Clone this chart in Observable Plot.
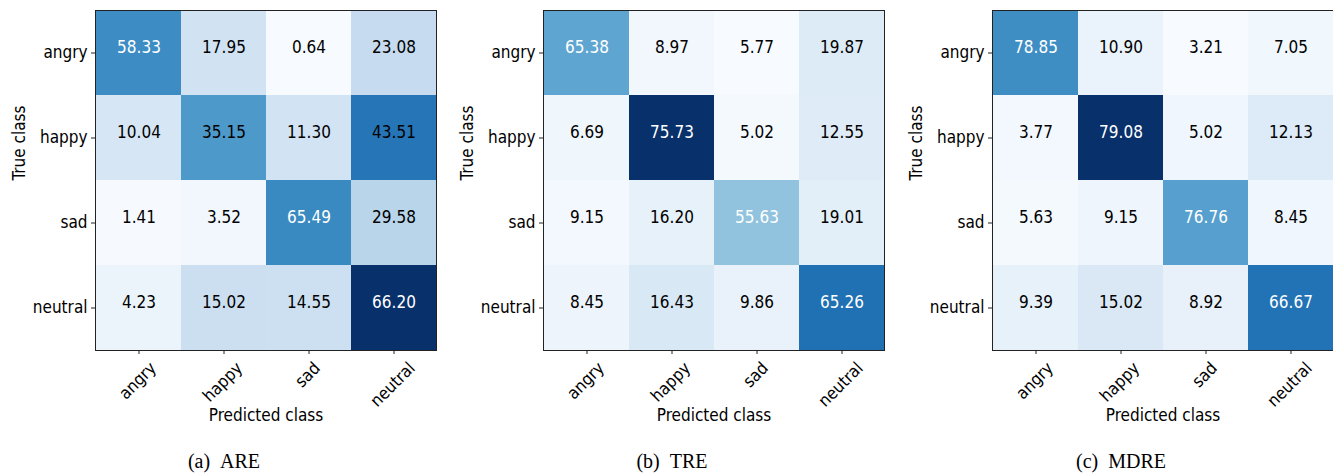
<!DOCTYPE html>
<html>
<head>
<meta charset="utf-8">
<script src="https://cdn.jsdelivr.net/npm/d3@7"></script>
<script src="https://cdn.jsdelivr.net/npm/@observablehq/plot@0.6"></script>
<style>
  html, body { margin: 0; padding: 0; background: #fff; }
  #root { position: relative; width: 1333px; height: 473px; overflow: hidden; background: #fff; }
  .panel { position: absolute; top: 0; width: 446px; height: 473px; }
  .panel svg { position: absolute; left: 0; top: 0; overflow: visible; }
  .caption { position: absolute; left: 0; top: 449px; width: 446px; text-align: center;
             font-family: "Liberation Serif", "Times New Roman", serif; font-size: 20px; line-height: 24px; color: #000; }
</style>
</head>
<body>
<div id="root"></div>
<script>
// ---- data ----
const classes = ["angry", "happy", "sad", "neutral"];
// number of test samples per true class (row support)
const support = [156, 239, 142, 213];
// row-normalised percentages shown in the cells
const areValues = [
  [58.33, 17.95, 0.64, 23.08],
  [10.04, 35.15, 11.30, 43.51],
  [1.41, 3.52, 65.49, 29.58],
  [4.23, 15.02, 14.55, 66.20]
];
const treValues = [
  [65.38, 8.97, 5.77, 19.87],
  [6.69, 75.73, 5.02, 12.55],
  [9.15, 16.20, 55.63, 19.01],
  [8.45, 16.43, 9.86, 65.26]
];
const mdreValues = [
  [78.85, 10.90, 3.21, 7.05],
  [3.77, 79.08, 5.02, 12.13],
  [5.63, 9.15, 76.76, 8.45],
  [9.39, 15.02, 8.92, 66.67]
];
const panelLetters = ["(a)", "(b)", "(c)"];
const panelNames = ["ARE", "TRE", "MDRE"];
const panelValues = [areValues, treValues, mdreValues];
const xLabel = "Predicted class";
const yLabel = "True class";

// ---- style ----
const blues = ["#f7fbff", "#deebf7", "#c6dbef", "#9ecae1", "#6baed6", "#4292c6", "#2171b5", "#08519c", "#08306b"];
const FONT = '"DejaVu Sans Condensed", "DejaVu Sans", sans-serif';
const FS = 17;
const panelLeft = [1, 449, 898];

const root = document.getElementById("root");

panelValues.forEach((values, p) => {
  const rows = [];
  values.forEach((row, i) => row.forEach((pct, j) => {
    rows.push({truth: classes[i], pred: classes[j], pct, count: Math.round(pct * support[i] / 100)});
  }));
  const cmin = d3.min(rows, d => d.count), cmax = d3.max(rows, d => d.count);
  const stops = blues.map((_, k) => cmin + k * (cmax - cmin) / (blues.length - 1));

  const plot = Plot.plot({
    width: 446, height: 446,
    marginLeft: 94, marginRight: 11, marginTop: 10, marginBottom: 96,
    style: {fontFamily: FONT, fontStretch: "condensed", fontSize: FS + "px", color: "#000", background: "transparent"},
    x: {domain: classes, padding: 0, label: null},
    y: {domain: classes, padding: 0, label: null},
    color: {type: "linear", domain: stops, range: blues, interpolate: "rgb"},
    marks: [
      Plot.cell(rows, {x: "pred", y: "truth", fill: "count", inset: 0}),
      Plot.text(rows, {filter: d => d.pct <= 50, x: "pred", y: "truth", text: d => d.pct.toFixed(2), fill: "#000", lineAnchor: "bottom", fontSize: FS}),
      Plot.text(rows, {filter: d => d.pct > 50, x: "pred", y: "truth", text: d => d.pct.toFixed(2), fill: "#fff", lineAnchor: "bottom", fontSize: FS}),
      Plot.frame({stroke: "#222", strokeWidth: 1}),
      Plot.axisY({tickSize: 4, tickPadding: 4, label: null, fontSize: FS, stroke: "#222"}),
      Plot.axisX({tickSize: 4, tickPadding: 4, label: null, fontSize: FS, tickRotate: -45, stroke: "#222"}),
      Plot.text([yLabel], {frameAnchor: "left", rotate: -90, dx: -76, fontSize: FS}),
      Plot.text([xLabel], {frameAnchor: "bottom", dy: 70, fontSize: FS})
    ]
  });

  const panel = document.createElement("div");
  panel.className = "panel";
  panel.style.left = panelLeft[p] + "px";
  panel.appendChild(plot);
  const cap = document.createElement("div");
  cap.className = "caption";
  cap.textContent = panelLetters[p] + "\u00a0\u00a0" + panelNames[p];
  panel.appendChild(cap);
  root.appendChild(panel);

  // place rotated x tick labels like matplotlib (bbox centred on tick, top below tick)
  const xs = plot.scale("x");
  const bw = xs.bandwidth || 0;
  const g = plot.querySelector('g[aria-label="x-axis tick label"]');
  if (g) {
    g.removeAttribute("transform");
    const ttop = 360;
    const a = 0.76 * FS, dd = 0.24 * FS, c = Math.SQRT1_2;
    g.querySelectorAll("text").forEach(t => {
      const label = t.textContent;
      const tickX = xs.apply(label) + bw / 2;
      t.removeAttribute("dy");
      t.querySelectorAll("tspan").forEach(s => s.removeAttribute("dy"));
      t.setAttribute("text-anchor", "start");
      t.removeAttribute("x"); t.removeAttribute("y");
      const L = t.getComputedTextLength();
      const tx = tickX - c * (L + dd - a) / 2;
      const ty = ttop + c * (L + a);
      t.setAttribute("transform", `translate(${tx},${ty}) rotate(-45)`);
    });
  }
});
</script>
</body>
</html>
